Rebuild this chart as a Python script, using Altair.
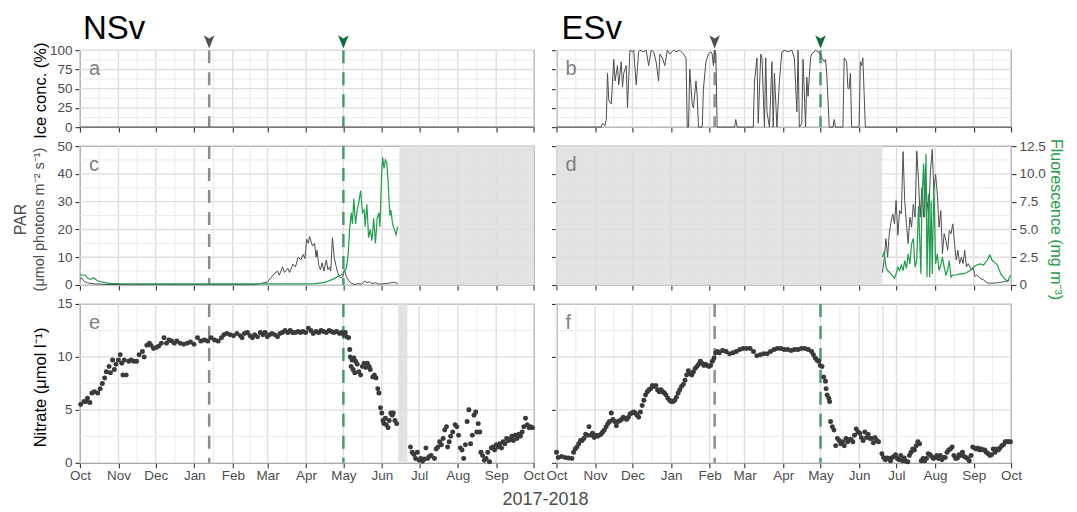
import altair as alt
import pandas as pd

FONT = "Liberation Sans"
TICK = "#333333"
LABEL = "#4d4d4d"
BORDER = "#4d4d4d"
GRID_MAJ = "#dedede"
GRID_MIN = "#e9e9e9"
SHADE_COL = "#dedede"
DARK = "#4d4d4d"
GREEN = "#1e9e4a"
DOT = "#3a3a3a"
EV_GRAY = "#8c8c8c"
EV_GREEN = "#4a9a70"
ARW_GRAY = "#505050"
ARW_GREEN = "#0e6b3a"
LETTER = "#808080"

BASE = pd.Timestamp("2017-10-01")

MONTH_STARTS = ["2017-10-01", "2017-11-01", "2017-12-01", "2018-01-01", "2018-02-01",
                "2018-03-01", "2018-04-01", "2018-05-01", "2018-06-01", "2018-07-01",
                "2018-08-01", "2018-09-01", "2018-10-01"]
ICE_TICKS = [0, 25, 50, 75, 100]
PAR_TICKS = [0, 10, 20, 30, 40, 50]
FL_TICKS = [0, 2.5, 5, 7.5, 10, 12.5]
NO3_TICKS = [0, 5, 10, 15]

SITES = ["NSv", "ESv"]
LETTERS = {"NSv": ["a", "c", "e"], "ESv": ["b", "d", "f"]}
EVENTS = {"NSv": ("2018-01-13", "2018-05-01"), "ESv": ("2018-02-05", "2018-05-01")}
SHADE = {("NSv", 1): ("2018-06-15", "2018-10-01"),
         ("NSv", 2): ("2018-06-14", "2018-06-21T12:00"),
         ("ESv", 1): ("2017-10-01", "2018-06-19T16:00"),
         ("ESv", 2): ("2018-06-19T08:00", "2018-06-20T16:00")}

# (days since 2017-10-01, value)
ICE_N = [(0, 0), (365, 0)]
ICE_E = [(0, 0), (36, 0), (37, 5), (39, 2), (40, 10), (41, 70), (42, 35), (44, 30), (46, 88), (47, 60),
         (49, 80), (50, 55), (52, 85), (53, 52), (54, 70), (56, 80), (57, 25), (59, 100), (61, 98),
         (62, 100), (64, 55), (66, 98), (67, 100), (70, 98), (72, 100), (74, 80), (76, 100), (78, 98),
         (80, 85), (82, 60), (83, 95), (85, 90), (87, 80), (89, 100), (91, 95), (94, 100), (96, 98),
         (99, 100), (102, 95), (104, 90), (105, 0), (106, 0), (107, 75), (109, 30), (110, 25),
         (112, 60), (113, 40), (114, 0), (117, 0), (118, 50), (120, 85), (122, 95), (124, 98),
         (125, 95), (126, 80), (127, 100), (128, 95), (129, 0), (143, 0), (144, 10), (145, 0),
         (158, 0), (159, 60), (161, 90), (162, 5), (164, 95), (165, 90), (167, 0), (168, 90),
         (169, 20), (171, 0), (173, 85), (174, 0), (175, 70), (177, 0), (179, 60), (181, 98),
         (183, 100), (186, 98), (189, 100), (190, 95), (191, 90), (193, 20), (194, 100), (195, 0),
         (197, 5), (198, 88), (200, 0), (201, 65), (202, 40), (204, 90), (205, 95), (207, 98),
         (208, 100), (210, 98), (212, 95), (213, 90), (215, 85), (216, 88), (217, 70), (219, 0),
         (222, 0), (223, 10), (224, 0), (230, 0), (231, 90), (233, 85), (234, 50), (235, 50),
         (236, 70), (237, 0), (243, 0), (244, 85), (245, 80), (246, 90), (248, 0), (365, 0)]

PAR_N = [(0, 2), (1.4, 2.5), (3, 1.5), (4, 1.2), (6, 0.8), (8, 0.6), (12, 0.4), (20, 0.2), (40, 0.1),
         (100, 0.1), (140, 0.1), (145.2, 0.5), (150.7, 1), (153.5, 2.5), (156.2, 4), (159, 5),
         (160.4, 3.5), (163.1, 6.5), (164.5, 4.5), (167.3, 6), (168.7, 4.5), (171.4, 7.5),
         (173.4, 6.5), (175.6, 10), (177.8, 9), (179.7, 11), (181.1, 9.5), (182.5, 16.5),
         (183.9, 15), (184.7, 17.5), (186.1, 15.5), (187.2, 14), (188.8, 15), (190, 10),
         (190.8, 12.5), (192.2, 7), (193.6, 5.5), (194.9, 8), (196.3, 5), (198.3, 9), (199.6, 5.5),
         (201, 6.5), (201.8, 5), (203.2, 17), (204.6, 10), (206, 7), (207.4, 4.5), (208.8, 3),
         (210.1, 2.5), (211.5, 3), (212.9, 5.5), (214.3, 3), (216.5, 1.5), (218.4, 0.5),
         (221.2, 0.2), (224, 0.5), (226.7, 0.3), (229.5, 1.5), (230.9, 0.8), (233.1, 1.2),
         (235, 0.5), (237.8, 0.8), (240.6, 0.3), (246.1, 0.5), (250.2, 0.8), (253, 1), (255.8, 0.5)]
FL_N = [(0, 0.9), (1.4, 0.9), (4.1, 0.9), (6.4, 0.6), (8.3, 0.5), (11, 0.65), (13.8, 0.4), (18, 0.25),
        (23.5, 0.15), (31.8, 0.12), (100, 0.1), (183.9, 0.1), (189.4, 0.12), (197.7, 0.25),
        (203.2, 0.5), (207.4, 0.75), (210.1, 0.9), (211.5, 1.0), (212.9, 1.25), (214.3, 1.5),
        (215.7, 2.5), (217, 5), (218.4, 6.5), (219.3, 5.5), (220.4, 7.75), (221.8, 5.5),
        (223.1, 6.75), (224.5, 7.5), (225.9, 8.5), (227.3, 6.5), (228.7, 6.75), (229.5, 5.25),
        (230.9, 7.25), (232.3, 4.25), (233.6, 5), (235, 4), (236.4, 6), (237.8, 3.75), (239.2, 6),
        (240.6, 6.5), (241.4, 5.25), (242.8, 10), (243.6, 11.5), (244.7, 10.5), (245.8, 11.25),
        (246.9, 11), (248, 9.25), (249.4, 6.25), (250.2, 6.75), (251.6, 5.5), (253, 5),
        (254.4, 4.5), (255.8, 5.25)]
PAR_E = [(261.7, 4.4), (263.1, 9), (264.5, 16.7), (265.9, 10), (267.2, 18.5), (268.6, 22.6), (270, 25.6),
         (271.4, 22), (272.7, 30.4), (274.1, 17.9), (275.5, 26.8), (276.9, 25.6), (278.3, 48),
         (279.6, 30.4), (281, 22), (282.4, 14.9), (283.8, 24.4), (285.1, 20.8), (286.5, 29),
         (287.9, 24.4), (289.3, 48.2), (290.7, 37.5), (292, 24.4), (293.4, 35), (294.8, 24.4),
         (296.2, 42.3), (297.5, 30.4), (298.9, 24.4), (300.3, 41), (301.7, 48.8), (303, 34),
         (304.4, 39.9), (305.8, 32.7), (307.2, 20.8), (308.6, 26.8), (309.9, 11.3), (311.3, 18.5),
         (312.7, 16), (314.1, 12.5), (315.4, 19.6), (316.8, 18.5), (318.2, 22), (319.6, 14.9),
         (321, 9), (322.3, 12.5), (323.7, 7.7), (325.1, 10), (326.5, 7.7), (327.8, 12.5),
         (329.2, 6.5), (330.6, 7.7), (332, 6.5), (333.4, 5.4), (334.7, 6), (336.1, 3), (337.5, 3.6),
         (340.2, 2.4), (343, 1.8), (345.7, 0.8), (348.5, 0.6), (354, 0.8), (359.5, 1.2), (363.7, 1.8)]
FL_E = [(261.7, 2.5), (263.1, 3), (264.5, 1.6), (265.9, 1.3), (268.6, 1), (271.4, 0.6), (272.7, 1),
        (274.1, 1.6), (275.5, 1.3), (276.9, 1.8), (278.3, 1.3), (279.6, 2.2), (281, 1.5), (282.4, 2.8),
        (283.8, 1.9), (285.1, 3.7), (286.5, 4.2), (287.9, 1.6), (289.3, 2.2), (290.7, 7.1),
        (291.5, 4.6), (292.6, 1), (293.4, 7.6), (294.8, 10.9), (295.6, 6.1), (296.7, 11.8),
        (297.5, 0.7), (298.9, 8.2), (299.7, 0.7), (300.8, 7.6), (301.7, 1), (303, 9.1), (304.4, 1.9),
        (305.8, 2.8), (307.2, 1.3), (308.6, 1.8), (309.9, 2.5), (311.3, 1.6), (312.7, 0.9),
        (314.1, 1.3), (315.4, 2.2), (316.8, 0.7), (318.2, 0.9), (321, 0.9), (323.7, 1), (326.5, 1),
        (329.2, 1.1), (332, 1.3), (334.7, 1.6), (337.5, 1.8), (340.2, 1.9), (343, 1.8), (345.7, 2.2),
        (348, 2.7), (349.9, 2.2), (351.3, 2.1), (354, 1.8), (356.8, 1), (359.5, 0.6), (362.3, 0.3),
        (363.7, 0.7), (364.5, 0.9)]

NO3_N = [(0.6, 5.5), (3.3, 5.8), (4.7, 5.8), (6.1, 6.1), (8, 5.7), (9.7, 6.6), (11.6, 6.7), (14.4, 6.6),
         (16.3, 7), (18, 7.5), (19.9, 8), (21.3, 8.6), (23.5, 9.1), (24.6, 8.5), (26.3, 9.7), (27.7, 8.8),
         (29, 9.3), (31, 9.7), (32.4, 10.2), (33.7, 9.4), (34.6, 8.3), (35.7, 9.7), (37.3, 8.3),
         (39.3, 9.6), (41.2, 9.7), (43.4, 9.6), (45.6, 9.6), (47.6, 10.2), (50.3, 10.5), (51.7, 10),
         (53.9, 11.1), (55.9, 11.3), (57.2, 11.1), (59.2, 10.8), (61.4, 10.9), (63.3, 11), (65.5, 11.3),
         (67.7, 11.8), (69.7, 11.3), (71.6, 11.6), (73.8, 11.5), (76, 11.3), (78, 11.5), (80.7, 11.3),
         (83.5, 11.2), (86.3, 11.3), (89, 11.4), (91.8, 11.2), (94.6, 11.8), (97.3, 11.5),
         (100.1, 11.6), (102.9, 11.5), (105.6, 11.8), (108.4, 11.6), (111.2, 11.5), (113.9, 11.8),
         (115.9, 12.1), (118.1, 12.2), (120.8, 12.1), (123.6, 12), (126.4, 12.2), (129.1, 12),
         (130.5, 11.8), (132.4, 12.2), (134.7, 12.3), (136.9, 12), (138.8, 11.8), (140.7, 12.1),
         (142.9, 11.9), (145.2, 12.3), (147.1, 12.1), (149, 12.3), (150.7, 11.9), (152.6, 12.1),
         (154.6, 12.2), (156.8, 12.1), (159, 11.9), (161, 12.2), (162.9, 12.3), (165.1, 12.5),
         (167.3, 12.3), (169.2, 12.5), (171.2, 12.3), (173.4, 12.3), (175.6, 12.4), (177.5, 12.3),
         (179.4, 12.4), (181.7, 12.3), (183.9, 12.7), (185.8, 12.5), (187.7, 12.2), (190, 12.4),
         (192.2, 12.3), (194.1, 12.5), (196, 12.4), (198.3, 12.3), (200.5, 12.5), (202.4, 12.4),
         (204.3, 12.3), (206.5, 12.4), (208.8, 12.2), (210.7, 12.3), (212.1, 12.1), (213.5, 12.3),
         (214.8, 11.9), (216.2, 11.8), (217.1, 10.7), (217.6, 10), (218.2, 9.1), (219, 9.7),
         (219.8, 8.8), (220.4, 9.9), (221.2, 8.5), (221.8, 9.6), (223.1, 9.3), (224.5, 8.6),
         (225.9, 8.3), (227.3, 9.1), (228.7, 9.4), (230, 9), (231.4, 9.4), (232.8, 9.1), (233.6, 8.8),
         (235.6, 8.1), (237, 8.3), (238.3, 8), (239.7, 7), (240.6, 6.6), (241.9, 5.2), (243, 4.7),
         (243.9, 4), (244.7, 3.7), (245.8, 4.2), (246.6, 3.6), (248, 3.3), (248.9, 4), (250.2, 4.7),
         (251.3, 4.5), (252.2, 4.7), (253.5, 4), (254.9, 3.7),
         (266, 1.5), (267.4, 1), (268.8, 0.8), (270.1, 0.4), (271.5, 1), (272.9, 0.25), (274.3, 0.4),
         (275.7, 0.15), (277, 0.35), (278.4, 1.4), (279.8, 0.4), (281.2, 0.6), (282.6, 0.7),
         (285.3, 0.4), (286.7, 1.3), (288.1, 1.5), (289.5, 2), (290.9, 1.7), (292.3, 2.3), (293.6, 3.1),
         (295, 3.4), (295.9, 1.5), (297.2, 2), (298.3, 2.5), (300, 2.9), (301.9, 3.6), (303.3, 3.4),
         (304.7, 2.6), (306.1, 1.4), (307.5, 1.2), (308.8, 0.4), (310.2, 1.7), (311.6, 3.9), (313, 5),
         (314.4, 1.8), (315.8, 2.6), (317.1, 4.5), (318.5, 4.8), (319.4, 2.9), (320.5, 3.7),
         (321.8, 2.9), (322.7, 1), (324, 0.7), (325.4, 0.25), (326.8, 0.4), (328.2, 1), (329.6, 0.1),
         (331, 1.4), (332.4, 1.5), (333.7, 1.2), (335.1, 1.7), (336.5, 1.5), (337.9, 1.8),
         (339.3, 1.4), (340.6, 2), (342, 1.8), (343.4, 2.3), (344.8, 2.1), (346.2, 2.2), (347.6, 2.5),
         (348.9, 2.1), (350.3, 2.6), (351.7, 2.3), (353.1, 2.7), (354.5, 2.5), (355.9, 2.9),
         (357.2, 3.4), (358.6, 4.2), (360, 3.6), (361.4, 3.3), (362.8, 3.4), (364.1, 3.3)]
NO3_E = [(0, 1), (1.4, 0.5), (4.1, 0.6), (6.9, 0.5), (9.6, 0.45), (12.4, 0.4), (13.8, 1), (15.1, 1.3),
         (16.5, 1.5), (17.9, 1.8), (19.3, 2.1), (20.6, 2.1), (22, 2.3), (23.4, 2.7), (24.8, 2.6),
         (26.1, 3.4), (27.5, 2.6), (28.9, 2.8), (30.3, 2.4), (31.6, 2.6), (33, 2.5), (34.4, 2.6),
         (35.8, 2.7), (37.1, 2.9), (38.5, 3.1), (39.9, 3.4), (41.3, 3.7), (42.6, 3.9), (44, 4.7),
         (45.4, 4.1), (46.8, 3.9), (48.1, 3.5), (49.5, 3.9), (50.9, 4), (52.3, 4.1), (53.6, 4.3),
         (55, 4.2), (56.4, 4.1), (57.8, 4.3), (59.1, 4.6), (60.5, 4.7), (61.9, 4.8), (63.3, 4.7),
         (64.6, 4.5), (66, 4.3), (67.4, 4.8), (68.8, 5.4), (70.2, 5.9), (71.5, 6.4), (72.9, 6.7),
         (74.3, 6.9), (75.7, 7), (77, 7.3), (78.4, 7.2), (79.8, 7.3), (81.2, 6.9), (82.5, 6.7),
         (83.9, 6.9), (85.3, 6.7), (86.7, 6.6), (88, 6.4), (89.4, 6.1), (90.8, 5.9), (92.2, 5.8),
         (93.5, 5.8), (94.9, 5.9), (96.3, 6.2), (97.7, 6.6), (99, 6.9), (100.4, 7.2), (101.8, 7.4),
         (103.2, 7.8), (104.5, 8.3), (105.9, 8.7), (107.3, 8.4), (108.7, 8.3), (110, 8.6), (111.4, 8.9),
         (112.8, 9.1), (114.2, 9.3), (115.5, 9.6), (116.9, 9.4), (118.3, 9.2), (119.7, 9.3), (121, 9.2),
         (122.4, 9.1), (123.8, 9.2), (125.2, 9.6), (126.5, 9.9), (127.9, 10.4), (129.3, 10.5),
         (130.7, 10.4), (133.4, 10.6), (136.2, 10.5), (138.9, 10.3), (141.7, 10.4), (144.4, 10.5),
         (147.2, 10.7), (149.9, 10.8), (152.7, 10.8), (155.4, 10.8), (158.2, 10.5), (160.9, 10.1),
         (163.7, 10.2), (166.4, 10.3), (169.2, 10.3), (171.9, 10.5), (174.7, 10.7), (177.4, 10.8),
         (180.2, 10.8), (182.9, 10.7), (185.7, 10.7), (188.4, 10.6), (191.2, 10.7), (193.9, 10.7),
         (196.7, 10.8), (199.4, 10.8), (202.2, 10.7), (204.9, 10.5), (206.3, 10.2), (207.7, 9.9),
         (209.1, 9.7), (210.5, 9.6), (211.8, 9.2), (213.2, 9.1), (214.6, 8.1), (216, 7.7), (216.5, 7),
         (217.3, 6.4), (218.7, 6.1), (219.3, 5.8), (220.1, 3.9), (221.5, 3.4), (222.8, 3.1),
         (224.2, 1.6), (225.6, 2.3), (227, 2.1), (228.3, 1.8), (229.7, 2), (231.1, 1.6), (232.5, 2.3),
         (233.8, 2), (235.2, 2.2), (236.6, 2.2), (238, 2), (239.3, 2.6), (240.7, 3.2), (242.1, 2.9),
         (243.5, 2.8), (244.8, 2.4), (246.2, 2.1), (247.6, 2.9), (249, 2.4), (250.3, 2.7), (251.7, 2.3),
         (253.1, 2.3), (254.5, 1.9), (255.8, 2.4), (257.2, 2.1), (258.6, 2),
         (261.3, 0.85), (262.7, 0.5), (264.1, 0.3), (265.5, 0.45), (266.8, 0.4), (268.2, 0.2),
         (269.6, 0.5), (271, 0.6), (272.3, 0.75), (273.7, 0.4), (275.1, 0.3), (276.5, 0.7), (277.9, 0.2),
         (279.2, 0.45), (280.6, 0.15), (282, 0.1), (283.4, 0.7), (284.7, 1), (286.1, 1.3), (287.5, 1.2),
         (288.9, 1.6), (290.2, 2), (291.6, 1.8), (293, 0.2), (294.4, 0.4), (295.7, 0.2), (297.1, 0.4),
         (298.5, 0.85), (299.9, 0.75), (301.2, 0.6), (302.6, 0.4), (304, 0.5), (305.4, 0.7),
         (306.7, 0.4), (308.1, 0.7), (309.5, 0.3), (310.9, 0.5), (312.2, 0.5), (313.6, 1), (315, 1.2),
         (316.4, 1.3), (317.7, 1.5), (319.1, 0.7), (320.5, 0.4), (321.9, 0.45), (323.2, 0.75),
         (324.6, 0.7), (326, 1), (327.4, 0.6), (328.7, 0.5), (330.1, 0.4), (331.5, 0.2), (332.9, 0.7),
         (334.2, 1.5), (335.6, 1.4), (337, 1.3), (338.4, 1.4), (339.7, 1.2), (341.1, 1.3), (342.5, 1.2),
         (343.9, 1.2), (345.2, 1), (346.6, 0.85), (348, 0.7), (349.4, 0.75), (350.7, 1.3), (352.1, 1),
         (353.5, 1.3), (354.9, 1.2), (356.2, 1.4), (357.6, 1.6), (359, 1.7), (360.4, 2), (361.7, 2),
         (363.1, 2), (364.5, 2)]

ICE = {"NSv": ICE_N, "ESv": ICE_E}
PAR = {"NSv": PAR_N, "ESv": PAR_E}
FL = {"NSv": FL_N, "ESv": FL_E}
NO3 = {"NSv": NO3_N, "ESv": NO3_E}

W = {"NSv": 454, "ESv": 455}
H = [77, 139, 159]
ARROW = "M -0.8 -1 L 0 -0.5 L 0.8 -1 L 0 1 Z"


def iso(ts):
    return pd.Timestamp(ts).strftime("%Y-%m-%dT%H:%M:%SZ")


def iso_day(d):
    return iso(BASE + pd.Timedelta(days=float(d)))


def series(pairs, name):
    return pd.DataFrame({"date": [iso_day(d) for d, _ in pairs], name: [v for _, v in pairs]})


MONTH_ISO = [iso(m) for m in MONTH_STARTS]
MID_ISO = [iso(pd.Timestamp(a) + (pd.Timestamp(b) - pd.Timestamp(a)) / 2)
           for a, b in zip(MONTH_STARTS[:-1], MONTH_STARTS[1:])]
MONTH_DT = [alt.DateTime(year=int(pd.Timestamp(m).year), month=int(pd.Timestamp(m).month), date=1, utc=True)
            for m in MONTH_STARTS]

ROW_CFG = [
    dict(dom=[0, 100], ticks=ICE_TICKS, minor=[12.5, 37.5, 62.5, 87.5]),
    dict(dom=[0, 50], ticks=PAR_TICKS, minor=[5, 15, 25, 35, 45]),
    dict(dom=[0, 15], ticks=NO3_TICKS, minor=[2.5, 7.5, 12.5]),
]


def xenc(field, show):
    return alt.X(f"{field}:T",
                 scale=alt.Scale(type="utc", domain=[MONTH_DT[0], MONTH_DT[-1]], nice=False),
                 axis=alt.Axis(values=MONTH_DT, labels=show, labelExpr="utcFormat(datum.value, '%b')",
                               tickSize=5, tickColor=TICK, tickWidth=1.1, domain=False, grid=False,
                               title=None, labelFontSize=13.5, labelColor=LABEL, labelFont=FONT,
                               labelPadding=1, labelOverlap=False, labelFlush=False))


def yenc(field, dom, ticks, show, orient="left", expr=None):
    ax = dict(values=ticks, labels=show, orient=orient, tickSize=5, tickColor=TICK, tickWidth=1.1,
              domain=False, grid=False, title=None, labelFontSize=13.5, labelColor=LABEL,
              labelFont=FONT, labelPadding=3)
    if expr:
        ax["labelExpr"] = expr
    return alt.Y(f"{field}:Q", scale=alt.Scale(domain=dom, nice=False, zero=False), axis=alt.Axis(**ax))


def txt(s, x, y, size, color, angle=None, align="left", baseline="alphabetic"):
    kw = dict(align=align, baseline=baseline, fontSize=size, color=color, font=FONT)
    if angle is not None:
        kw["angle"] = angle
    return alt.Chart(pd.DataFrame({"t": [s]})).mark_text(**kw).encode(
        x=alt.value(x), y=alt.value(y), text="t:N")


def panel(site, r):
    w, h = W[site], H[r]
    showx = r == 2
    showy = site == "NSv"
    cfg = ROW_CFG[r]

    def Y(f):
        return yenc(f, cfg["dom"], cfg["ticks"], showy)

    layers = [
        alt.Chart(pd.DataFrame({"date": MID_ISO})).mark_rule(color=GRID_MIN, strokeWidth=0.9)
        .encode(x=xenc("date", showx)),
        alt.Chart(pd.DataFrame({"date": MONTH_ISO})).mark_rule(color=GRID_MAJ, strokeWidth=1.4)
        .encode(x=xenc("date", showx)),
        alt.Chart(pd.DataFrame({"v": cfg["minor"]})).mark_rule(color=GRID_MIN, strokeWidth=0.9)
        .encode(y=Y("v")),
        alt.Chart(pd.DataFrame({"v": cfg["ticks"]})).mark_rule(color=GRID_MAJ, strokeWidth=1.4)
        .encode(y=Y("v")),
    ]
    ev_gray, ev_green = EVENTS[site]
    if not (site == "ESv" and r == 1):
        for ev, col in ((ev_gray, EV_GRAY), (ev_green, EV_GREEN)):
            layers.append(alt.Chart(pd.DataFrame({"date": [iso(ev)]}))
                          .mark_rule(color=col, strokeWidth=2.5, strokeDash=[13, 9])
                          .encode(x=xenc("date", showx)))
    if (site, r) in SHADE:
        a, b = SHADE[(site, r)]
        layers.append(alt.Chart(pd.DataFrame({"s": [iso(a)], "e": [iso(b)]}))
                      .mark_rect(color=SHADE_COL, opacity=0.85)
                      .encode(x=xenc("s", showx), x2="e:T"))
    if r == 0:
        layers.append(alt.Chart(series(ICE[site], "ice")).mark_line(color=DARK, strokeWidth=1)
                      .encode(x=xenc("date", showx), y=Y("ice")))
    elif r == 1:
        layers.append(alt.Chart(series(PAR[site], "par")).mark_line(color=DARK, strokeWidth=1)
                      .encode(x=xenc("date", showx), y=Y("par")))
    else:
        layers.append(alt.Chart(series(NO3[site], "no3")).mark_circle(color=DOT, size=25, opacity=1)
                      .encode(x=xenc("date", showx), y=Y("no3")))

    layers.append(txt(LETTERS[site][r], 9, 25, 20, LETTER))
    if r == 0:
        layers.append(txt(site, 3 if site == "NSv" else 5, -11.5, 33, "black"))
        for ev, col in ((ev_gray, ARW_GRAY), (ev_green, ARW_GREEN)):
            layers.append(alt.Chart(pd.DataFrame({"date": [iso(ev)]}))
                          .mark_point(shape=ARROW, filled=True, size=178, color=col, opacity=1)
                          .encode(x=xenc("date", showx), y=alt.value(-8.3)))
    if site == "NSv":
        if r == 0:
            layers.append(txt("Ice conc. (%)", -34, h / 2 + 2, 16.5, "black", angle=270, align="center"))
        elif r == 1:
            layers.append(txt("PAR", -54, h / 2 + 4, 16, LABEL, angle=270, align="center"))
            layers.append(txt("(μmol photons m⁻² s⁻¹)", -36, h / 2 + 4, 14.5, LABEL, angle=270,
                              align="center"))
        else:
            layers.append(txt("Nitrate (μmol l⁻¹)", -34, h / 2 + 4, 16.5, "black", angle=270,
                              align="center"))
            layers.append(txt("2017-2018", 466, h + 42, 18, LABEL, align="center"))
    if site == "ESv" and r == 1:
        layers.append(txt("Fluorescence (mg m⁻³)", w + 40, h / 2 + 4, 16, GREEN, angle=90,
                          align="center"))

    body = alt.layer(*layers)
    if r == 1:
        if site == "ESv":
            fl_axis = alt.Axis(values=FL_TICKS, orient="right", tickSize=5, tickColor=TICK, tickWidth=1.1,
                               domain=False, grid=False, title=None, labelFontSize=13.5, labelColor=LABEL,
                               labelFont=FONT, labelPadding=3,
                               labelExpr="datum.value == 0 ? '0' : format(datum.value, '.1f')")
        else:
            fl_axis = None
        fl = alt.Chart(series(FL[site], "fl")).mark_line(color=GREEN, strokeWidth=1.2).encode(
            x=xenc("date", showx),
            y=alt.Y("fl:Q", scale=alt.Scale(domain=[0, 12.5], nice=False, zero=False), axis=fl_axis))
        body = alt.layer(body, fl).resolve_scale(y="independent")
    return body.properties(width=w, height=h)


panels = [panel(s, r) for r in range(3) for s in SITES]
chart = (alt.concat(*panels, columns=2, spacing=alt.RowColnumber(row=19, column=23), bounds="flush")
         .resolve_scale(x="independent", y="independent")
         .properties(padding={"left": 4, "top": 3, "right": 4, "bottom": 0})
         .configure(font=FONT)
         .configure_view(stroke=BORDER, strokeWidth=1.2))

chart.save("out.html", embed_options={"renderer": "svg", "actions": False})
